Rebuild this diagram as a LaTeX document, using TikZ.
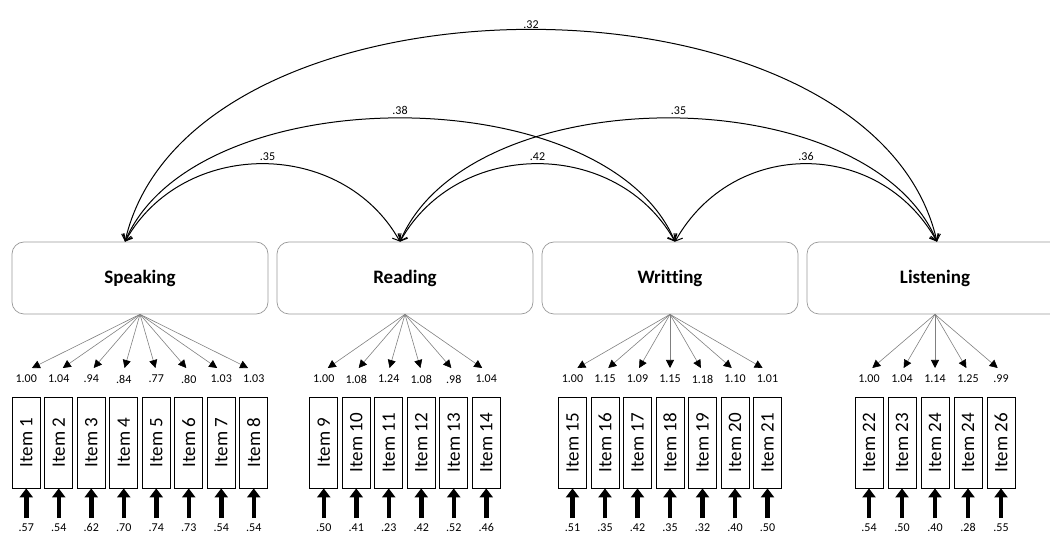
\documentclass[tikz,border=0pt]{standalone}
\usepackage{fontspec}
\setmainfont{Carlito}[Ligatures={NoCommon}]
\usetikzlibrary{arrows.meta,calc}
\tikzset{
  lat/.style={draw=black!40, line width=0.7pt, rounded corners=12pt, minimum width=256pt, minimum height=72pt, inner sep=0pt, font=\bfseries\fontsize{19}{19}\selectfont},
  itembox/.style={draw=black, line width=0.8pt, rotate=90, minimum width=91pt, minimum height=28pt, inner sep=0pt, font=\fontsize{19}{19}\selectfont},
  num/.style={inner sep=0pt, font=\fontsize{12}{12}\selectfont},
  lbl/.style={inner sep=3pt, font=\fontsize{12}{12}\selectfont},
  load/.style={draw=black!50, line width=0.6pt, -{Triangle[length=8pt,width=8pt,color=black]}},
  errarrow/.style={draw=black, line width=4.5pt, -{Triangle[length=9pt,width=13pt]}},
  cov/.style={draw=black, line width=1pt, {Straight Barb[length=6pt,width=10pt]}-{Straight Barb[length=6pt,width=10pt]}}
}
\newcommand\mkfactor[5]{%
  \foreach \k/\nm/\lab/\ld/\er in {#5}{%
    \pgfmathsetmacro\xx{#2+(\k-(#3+1)/2)*#4}%
    \pgfmathsetmacro\xt{\xx+0.05*(#2-\xx)}%
    \node[itembox] (i\nm) at (\xx,442.5) {\lab};
    \node[num] (l\nm) at (\xx,379) {\ld};
    \node[num] (r\nm) at (\xx,527.5) {\er};
    \coordinate (t\nm) at (\xt,368);
    \coordinate (e\nm) at (\xx,518);
    \draw[load] (#1.south) -- (t\nm);
    \draw[errarrow] (e\nm) -- (i\nm.west);
  }}
\begin{document}
\begin{tikzpicture}[x=1pt,y=-1pt]
\useasboundingbox (0,0) rectangle (1050,534);
\clip (0,0) rectangle (1050,534);
% latent variables
\node[lat] (sp) at (140,278) {Speaking};
\node[lat] (rd) at (405,278) {Reading};
\node[lat] (wr) at (670,278) {Writting};
\node[lat] (ls) at (935,278) {Listening};
\coordinate (spT) at ([xshift=-15pt]sp.north);
\coordinate (rdT) at ([xshift=-5pt]rd.north);
\coordinate (wrT) at ([xshift=5pt]wr.north);
\coordinate (lsT) at ([xshift=2pt]ls.north);
% covariances
\draw[cov] (spT) .. controls (183,138) and (342,138) .. (rdT) node[pos=0.5,above,lbl,xshift=5pt] {.35};
\draw[cov] (spT) .. controls (195,77) and (605,77) .. (wrT) node[pos=0.5,above,lbl] {.38};
\draw[cov] (spT) .. controls (190,-41) and (872,-41) .. (lsT) node[pos=0.5,above,lbl,yshift=-2pt] {.32};
\draw[cov] (rdT) .. controls (458,138) and (617,138) .. (wrT) node[pos=0.5,above,lbl] {.42};
\draw[cov] (rdT) .. controls (470,77) and (867,77) .. (lsT) node[pos=0.5,above,lbl,xshift=10pt] {.35};
\draw[cov] (wrT) .. controls (733,138) and (879,138) .. (lsT) node[pos=0.5,above,lbl] {.36};
% indicators
\mkfactor{sp}{140}{8}{32.5}{1/1/Item 1/1.00/.57, 2/2/Item 2/1.04/.54, 3/3/Item 3/.94/.62, 4/4/Item 4/.84/.70, 5/5/Item 5/.77/.74, 6/6/Item 6/.80/.73, 7/7/Item 7/1.03/.54, 8/8/Item 8/1.03/.54}
\mkfactor{rd}{405}{6}{32.5}{1/9/Item 9/1.00/.50, 2/10/Item 10/1.08/.41, 3/11/Item 11/1.24/.23, 4/12/Item 12/1.08/.42, 5/13/Item 13/.98/.52, 6/14/Item 14/1.04/.46}
\mkfactor{wr}{670}{7}{32.5}{1/15/Item 15/1.00/.51, 2/16/Item 16/1.15/.35, 3/17/Item 17/1.09/.42, 4/18/Item 18/1.15/.35, 5/19/Item 19/1.18/.32, 6/20/Item 20/1.10/.40, 7/21/Item 21/1.01/.50}
\mkfactor{ls}{935}{5}{33}{1/22/Item 22/1.00/.54, 2/23/Item 23/1.04/.50, 3/24/Item 24/1.14/.40, 4/25/Item 24/1.25/.28, 5/26/Item 26/.99/.55}
\end{tikzpicture}
\end{document}
